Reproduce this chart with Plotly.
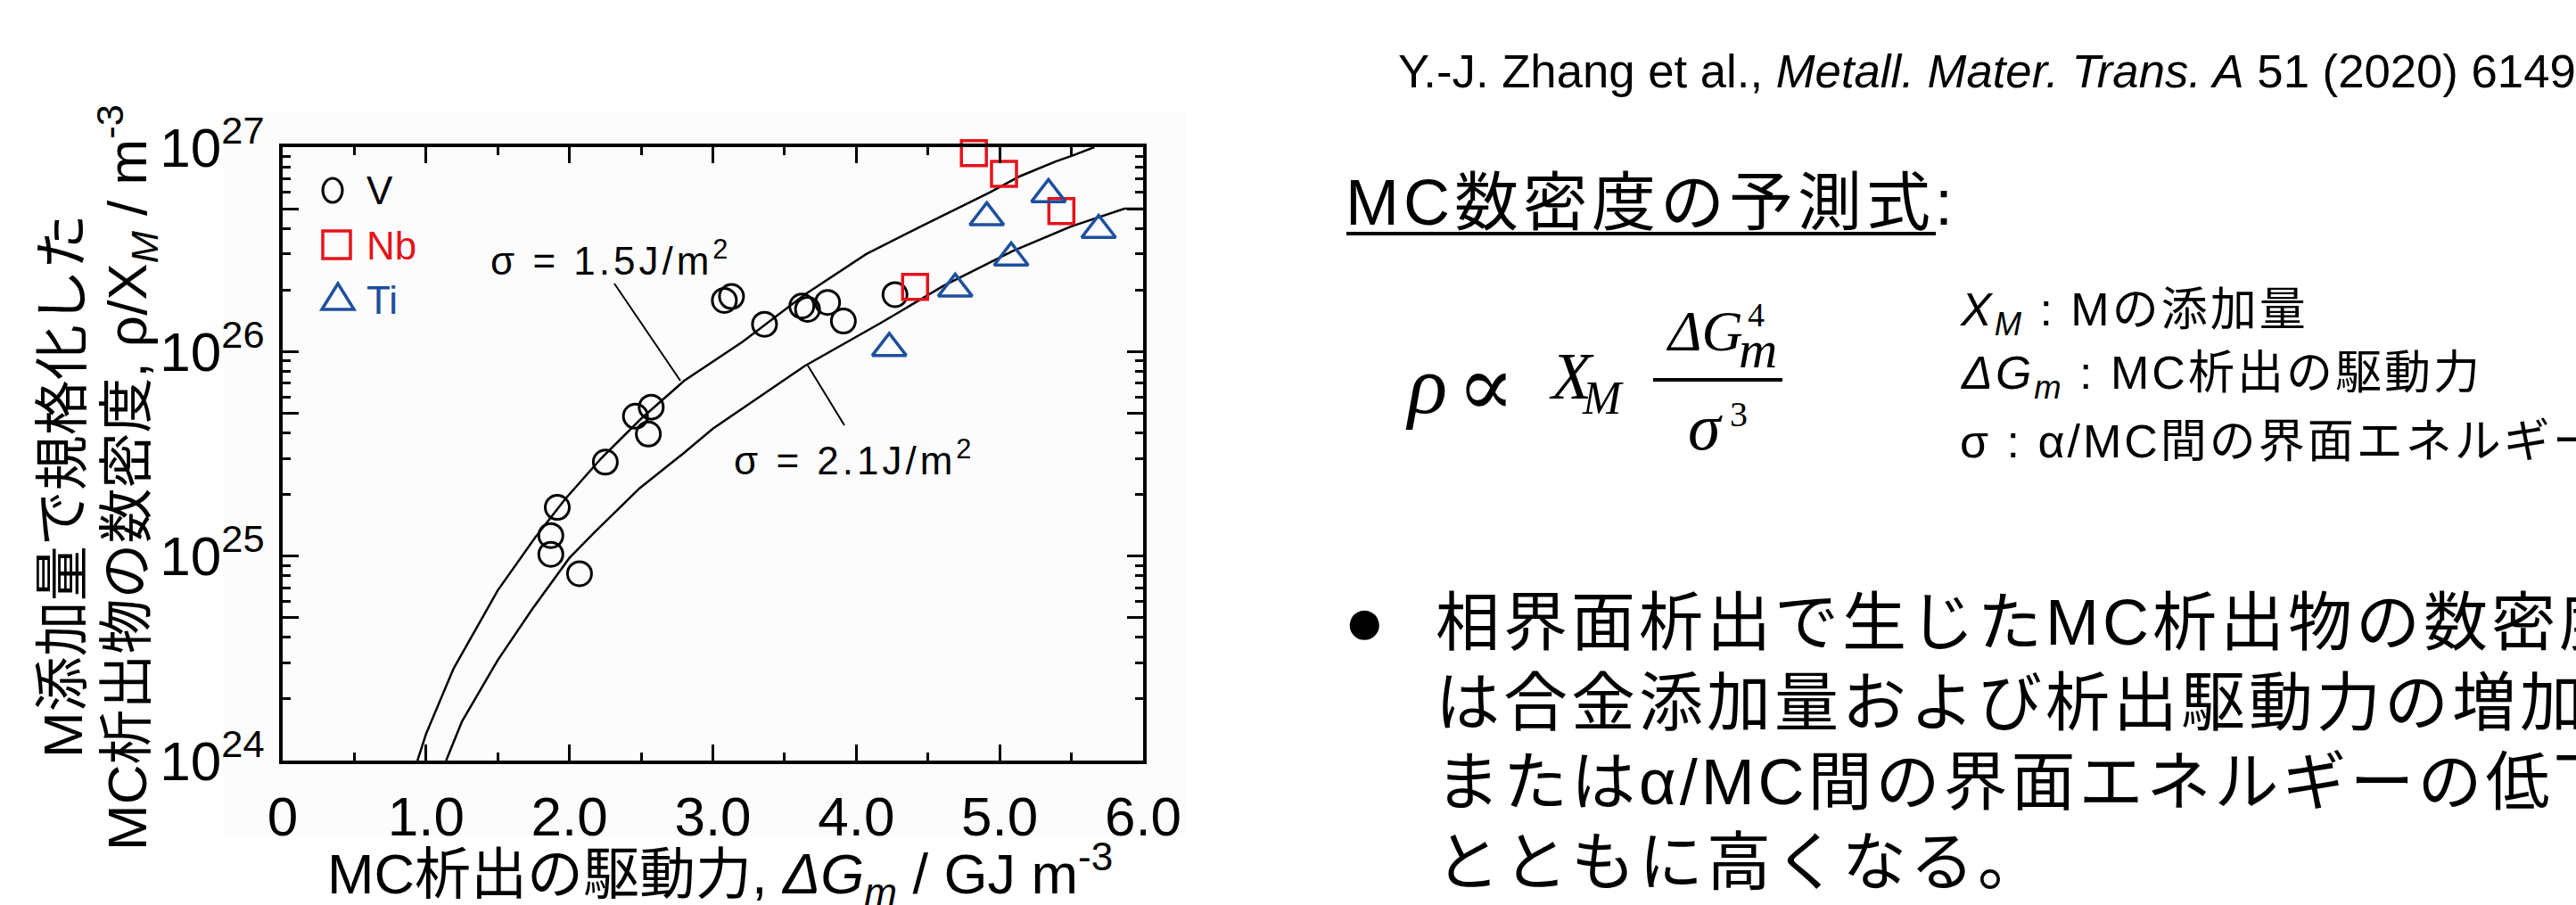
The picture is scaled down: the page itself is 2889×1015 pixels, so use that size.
import plotly.graph_objects as go

# ---- data -------------------------------------------------------------
# driving force dG_m (GJ m^-3) and normalised number density rho/X_M (m^-3)
v_dg = [1.87, 1.87, 1.915, 2.07, 2.25, 2.46, 2.55, 2.57, 3.08, 3.13, 3.36, 3.62, 3.66, 3.80, 3.91, 4.27]
v_rho = [1.02e25, 1.26e25, 1.73e25, 8.2e24, 2.88e25, 4.83e25, 3.95e25, 5.35e25,
         1.78e26, 1.86e26, 1.36e26, 1.67e26, 1.61e26, 1.74e26, 1.41e26, 1.90e26]
nb_dg = [4.41, 4.82, 5.03, 5.43]
nb_rho = [2.07e26, 9.35e26, 7.4e26, 4.86e26]
ti_dg = [4.23, 4.69, 4.91, 5.08, 5.34, 5.69]
ti_rho = [1.04e26, 2.03e26, 4.53e26, 2.88e26, 5.88e26, 3.93e26]

# model curves for two interfacial energies
s15_dg = [0.94, 1.00, 1.19, 1.50, 1.76, 1.97, 2.22, 2.50, 2.80, 3.21, 3.64, 4.07, 4.39, 4.93, 5.14, 5.39, 5.51, 5.66]
s15_rho = [1.0e24, 1.35e24, 2.8e24, 6.8e24, 1.23e25, 1.9e25, 3.0e25, 4.7e25, 7.2e25, 1.12e26,
           1.9e26, 3.0e26, 3.9e26, 6.0e26, 7.2e26, 8.5e26, 9.1e26, 1.0e27]
s21_dg = [1.14, 1.25, 1.50, 1.74, 2.00, 2.18, 2.49, 2.80, 3.00, 3.31, 3.64, 4.17, 4.61, 5.09, 5.50, 5.87, 6.0]
s21_rho = [1.0e24, 1.55e24, 3.1e24, 5.5e24, 9.8e24, 1.32e25, 2.15e25, 3.2e25, 4.2e25, 5.9e25,
           8.5e25, 1.38e26, 2.1e26, 3.1e26, 4.1e26, 5.0e26, 5.0e26]

x_ticks = [0, 1, 2, 3, 4, 5, 6]
x_ticktext = ["0", "1.0", "2.0", "3.0", "4.0", "5.0", "6.0"]
x_minor = [0.5, 1.5, 2.5, 3.5, 4.5, 5.5]
y_ticks = [1e24, 5e24, 1e25, 5e25, 1e26, 5e26, 1e27]
y_ticktext = ["10<sup>24</sup>", "", "10<sup>25</sup>", "", "10<sup>26</sup>", "", "10<sup>27</sup>"]
y_minor = [m * 10.0 ** e for e in (24, 25, 26) for m in (2, 3, 4, 6, 7, 8, 9)]

legend_labels = ["V", "Nb", "Ti"]
curve_labels = ["σ = 1.5J/m<sup>2</sup>", "σ = 2.1J/m<sup>2</sup>"]
x_title = "MC析出の駆動力, <i>ΔG</i><sub><i>m</i></sub> / GJ m<sup>-3</sup>"
y_title = ["M添加量で規格化した", "MC析出物の数密度, ρ/X<sub><i>M</i></sub> / m<sup>-3</sup>"]
citation = "Y.-J. Zhang et al., <i>Metall. Mater. Trans. A</i> 51 (2020) 6149"
heading = "MC数密度の予測式:"
definitions = ["<i>X<sub>M</sub></i> : Mの添加量",
               "<i>ΔG<sub>m</sub></i> : MC析出の駆動力",
               "σ : α/MC間の界面エネルギー"]
bullet_lines = ["相界面析出で生じたMC析出物の数密度",
                "は合金添加量および析出駆動力の増加",
                "またはα/MC間の界面エネルギーの低下",
                "とともに高くなる。"]

# ---- page geometry ------------------------------------------------------
W, H = 2889, 1015
L, R, T, B = 317, 1282, 165, 853  # plot area edges in page pixels

RED = "#E5131B"
BLUE = "#1D4F9E"
SANS = "Liberation Sans, Noto Sans CJK JP, sans-serif"
SERIF = "Liberation Serif, DejaVu Serif, serif"


def px(x):
    return (x - L) / (R - L)


def py(y):
    return (B - y) / (B - T)


def spaced(s, gap):
    return f'<span style="letter-spacing:{gap}px">{s}</span>'


fig = go.Figure()

fig.add_trace(go.Scatter(x=s15_dg, y=s15_rho, mode="lines",
                         line=dict(color="black", width=2.5), hoverinfo="skip"))
fig.add_trace(go.Scatter(x=s21_dg, y=s21_rho, mode="lines",
                         line=dict(color="black", width=2.5), hoverinfo="skip"))
fig.add_trace(go.Scatter(x=v_dg, y=v_rho, mode="markers", name="V", cliponaxis=False,
                         marker=dict(symbol="circle-open", size=27, color="black",
                                     line=dict(width=3, color="black"))))
fig.add_trace(go.Scatter(x=nb_dg, y=nb_rho, mode="markers", name="Nb", cliponaxis=False,
                         marker=dict(symbol="square-open", size=28, color=RED,
                                     line=dict(width=3.5, color=RED))))
fig.add_trace(go.Scatter(x=ti_dg, y=ti_rho, mode="markers", name="Ti", cliponaxis=False,
                         marker=dict(symbol="triangle-up-open", size=33, color=BLUE,
                                     line=dict(width=3.5, color=BLUE))))

axis_common = dict(showline=True, linewidth=4, linecolor="black", mirror="ticks",
                   ticks="inside", ticklen=18, tickwidth=3, tickcolor="black",
                   showgrid=False, zeroline=False,
                   tickfont=dict(family=SANS, size=62, color="black"))

fig.update_xaxes(range=[0, 6], tickmode="array", tickvals=x_ticks, ticktext=x_ticktext,
                 minor=dict(tickmode="array", tickvals=x_minor, ticks="inside",
                            ticklen=9, tickwidth=3, tickcolor="black"),
                 ticklabelstandoff=6, **axis_common)
fig.update_yaxes(type="log", range=[24, 27], tickmode="array", tickvals=y_ticks,
                 ticktext=y_ticktext,
                 minor=dict(tickmode="array", tickvals=y_minor, ticks="inside",
                            ticklen=9, tickwidth=3, tickcolor="black"),
                 ticklabelstandoff=4, **axis_common)

ann = []


def text(x, y, s, size, xanchor="left", yanchor="middle", color="black",
         family=SANS, angle=0):
    ann.append(dict(x=px(x), y=py(y), xref="paper", yref="paper", text=s,
                    showarrow=False, xanchor=xanchor, yanchor=yanchor, textangle=angle,
                    font=dict(family=family, size=size, color=color)))


# curve labels
text(685, 289, spaced(curve_labels[0], 4), 44, xanchor="center")
text(958, 513, spaced(curve_labels[1], 4), 44, xanchor="center")

# legend
legend_colors = ["black", RED, BLUE]
for lab, col, yc in zip(legend_labels, legend_colors, [213, 275, 336]):
    text(409, yc, lab, 44, color=col)

# axis titles
text(807, 980, x_title, 63, xanchor="center")
text(70, 545, y_title[0], 62, xanchor="center", angle=-90)
text(142, 536, y_title[1], 62, xanchor="center", angle=-90)

# right-hand notes
text(1566, 79, citation, 52.7)
text(1507, 227, spaced(heading, 5), 72)

# proportionality relation
text(1599, 432, "<i>ρ</i>", 92, xanchor="center", family=SERIF)
text(1666, 433, "∝", 96, xanchor="center", family="DejaVu Serif, serif")
text(1762, 422, "<i>X</i>", 74, xanchor="center", family=SERIF)
text(1797, 447, "<i>M</i>", 52, xanchor="center", family=SERIF)
text(1911, 371, "<i>ΔG</i>", 64, xanchor="center", family=SERIF)
text(1971, 392, "<i>m</i>", 60, xanchor="center", family=SERIF)
text(1969, 353, "4", 38, xanchor="center", family=SERIF)
text(1912, 479, "<i>σ</i>", 74, xanchor="center", family=SERIF)
text(1950, 464, "3", 40, xanchor="center", family=SERIF)

for s, yc in zip(definitions, [351, 422, 495]):
    text(2196, yc, spaced(s, 3), 52)

text(1530, 696, "●", 77, xanchor="center")
for s, yc in zip(bullet_lines, [698, 788, 877, 967]):
    text(1608, yc, spaced(s, 4), 72)

fig.update_layout(annotations=ann)

shapes = [
    # faint panel behind the chart
    dict(type="rect", xref="paper", yref="paper", x0=px(250), x1=px(1330),
         y0=py(938), y1=py(127), fillcolor="#FCFCFC", line=dict(width=0), layer="below"),
    # leader lines from labels to curves
    dict(type="line", xref="paper", yref="paper", x0=px(689), y0=py(318), x1=px(763), y1=py(427),
         line=dict(color="black", width=2)),
    dict(type="line", xref="paper", yref="paper", x0=px(906), y0=py(410), x1=px(947), y1=py(477),
         line=dict(color="black", width=2)),
    # legend symbols
    dict(type="circle", xref="paper", yref="paper", x0=px(362), x1=px(384), y0=py(227), y1=py(200),
         line=dict(color="black", width=3)),
    dict(type="rect", xref="paper", yref="paper", x0=px(362), x1=px(393), y0=py(290), y1=py(259),
         line=dict(color=RED, width=3.5)),
    dict(type="path", xref="paper", yref="paper",
         path=f"M {px(361)} {py(347)} L {px(397)} {py(347)} L {px(379)} {py(318)} Z",
         line=dict(color=BLUE, width=3.5)),
    # fraction bar
    dict(type="line", xref="paper", yref="paper", x0=px(1854), y0=py(426), x1=px(1999), y1=py(426),
         line=dict(color="black", width=4)),
    # heading underline
    dict(type="line", xref="paper", yref="paper", x0=px(1510), y0=py(262), x1=px(2171), y1=py(262),
         line=dict(color="black", width=4)),
]
fig.update_layout(shapes=shapes)

fig.update_layout(width=W, height=H, autosize=False, showlegend=False,
                  margin=dict(l=L, r=W - R, t=T, b=H - B, pad=0),
                  paper_bgcolor="white", plot_bgcolor="rgba(0,0,0,0)",
                  font=dict(family=SANS, color="black"))

fig.write_html("out.html")
